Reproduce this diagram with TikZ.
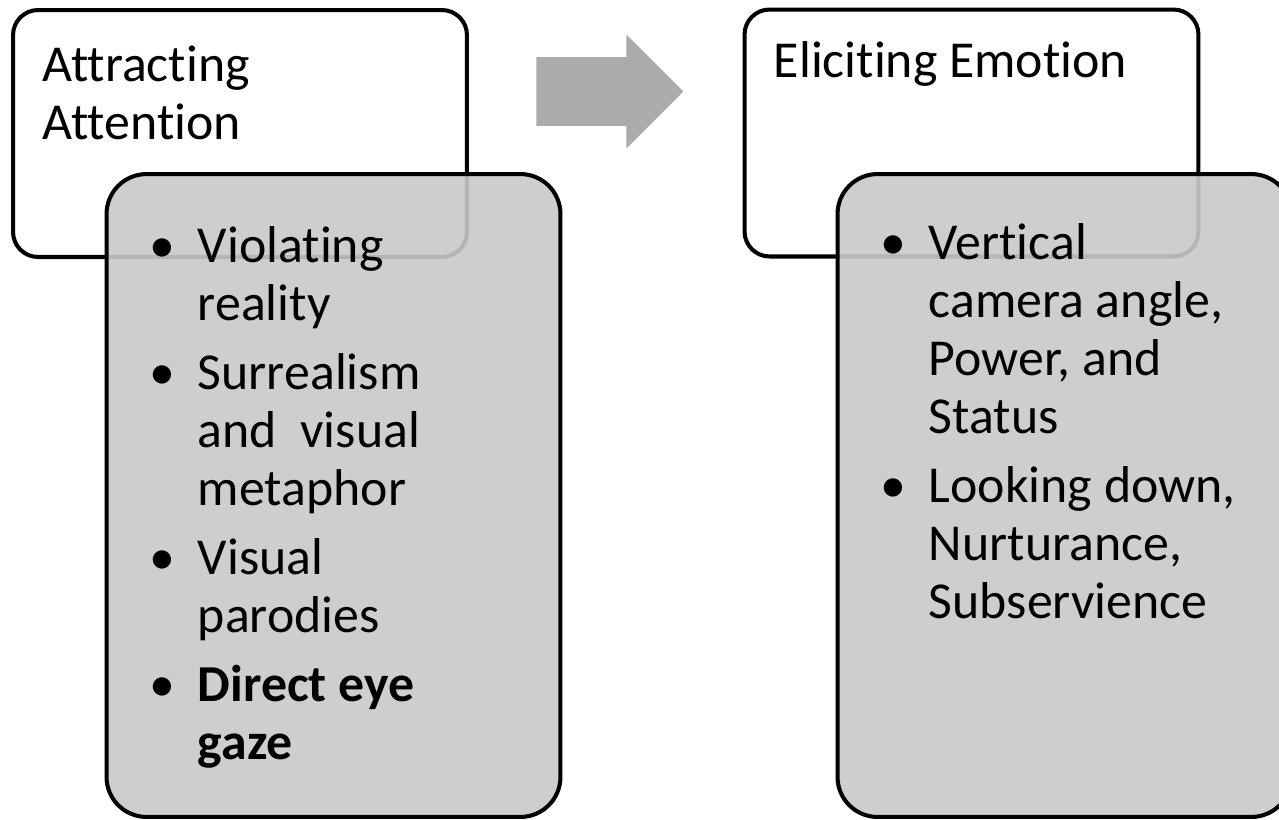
\documentclass[tikz,border=0pt]{standalone}
\usepackage{fontspec}
\setmainfont[Ligatures=NoCommon]{Carlito}
\usetikzlibrary{shapes.arrows}

\definecolor{panelgray}{RGB}{201,201,201}
\definecolor{arrowgray}{RGB}{171,171,171}

\newcommand{\bul}{\llap{\makebox[0.96cm][l]{\textbullet}}}

\begin{document}
\begin{tikzpicture}[x=0.02cm, y=-0.02cm,
    headbox/.style={draw, line width=2.3pt, rounded corners=0.5cm, fill=white, minimum width=9.08cm, minimum height=4.94cm},
    listbox/.style={draw, line width=2.3pt, rounded corners=0.8cm, fill=panelgray, fill opacity=0.9, minimum width=9.08cm, minimum height=12.86cm},
    txt/.style={anchor=base west, inner sep=0pt, align=left, font=\fontsize{29.5}{33}\selectfont}]
    \useasboundingbox (0,0) rectangle (1279,819);
    \node[headbox] (attract) at (240,133.5) {};
    \node[headbox] (elicit) at (971.5,133) {};
    \node[single arrow, fill=arrowgray, minimum height=2.94cm, single arrow head extend=0.45cm, single arrow tip angle=90, inner xsep=0pt, inner ysep=0.68cm, anchor=tail] (next) at (536,91.5) {};
    \node[listbox] (attractlist) at (333.5,495.5) {};
    \node[listbox] (elicitlist) at (1064.5,495.5) {};
    \node[txt] (attracttitle) at ([shift={(31,131)}]attract.north west) {Attracting\\Attention};
    \node[txt] (elicittitle) at ([shift={(31,70)}]elicit.north west) {Eliciting Emotion};
    \node[txt] (attractitems) at ([shift={(93,587)}]attractlist.north west) {\bul Violating\\reality\\[0.22cm]
        \bul Surrealism\\and\ \ visual\\metaphor\\[0.22cm]
        \bul Visual\\parodies\\[0.22cm]
        \bul\textbf{Direct eye}\\\textbf{gaze}};
    \node[txt] (elicititems) at ([shift={(93,446)}]elicitlist.north west) {\bul Vertical\\camera angle,\\Power, and\\Status\\[0.22cm]
        \bul Looking down,\\Nurturance,\\Subservience};
\end{tikzpicture}
\end{document}
